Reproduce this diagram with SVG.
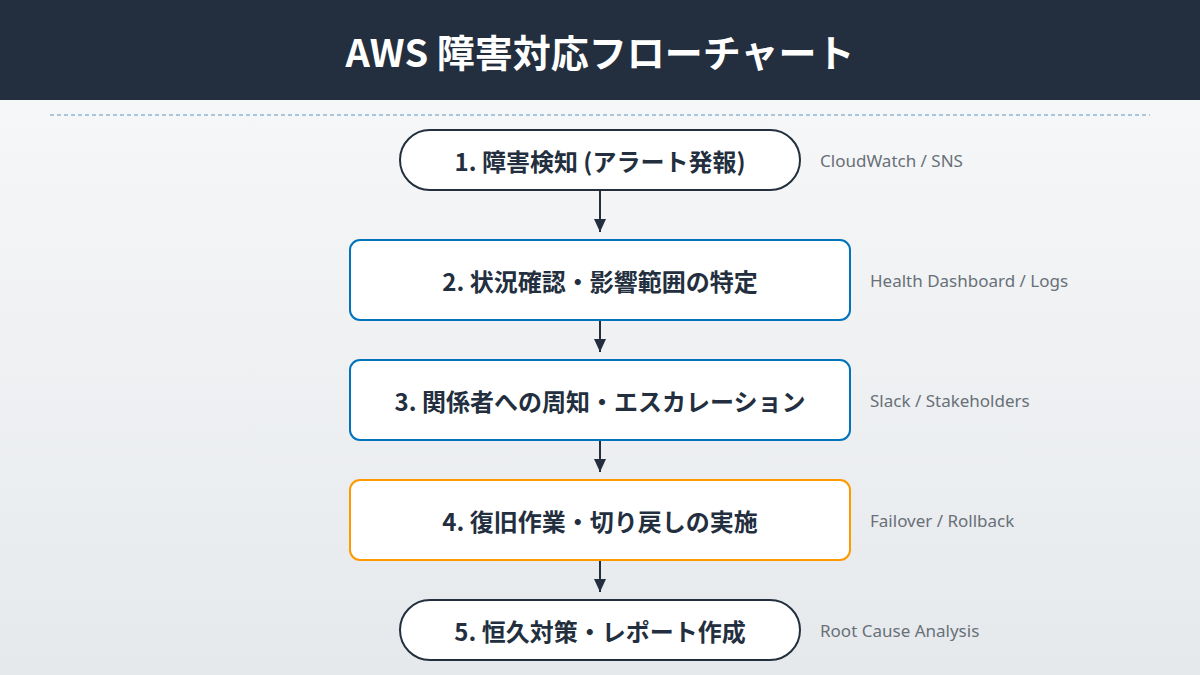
<svg xmlns="http://www.w3.org/2000/svg" width="1200" height="675" viewBox="0 0 1200 675">
<defs>
<linearGradient id="bg" x1="0" y1="0" x2="0" y2="1"><stop offset="0" stop-color="#f8f9fa"/><stop offset="1" stop-color="#e6e9ec"/></linearGradient>
<marker id="ah" markerWidth="14" markerHeight="14" refX="13" refY="6" orient="auto" markerUnits="userSpaceOnUse"><path d="M0,0 L13,6 L0,12 Z" fill="#232f3e"/></marker>
<style>
.t{font-family:"Noto Sans CJK JP","Noto Sans",sans-serif;font-weight:700;font-size:24px;fill:#232f3e;text-anchor:middle;dominant-baseline:central}
.s{font-family:"Noto Sans","Noto Sans CJK JP",sans-serif;font-size:17px;fill:#687078;dominant-baseline:central}
.b{fill:#fff;stroke-width:2}
.c{stroke:#232f3e;stroke-width:2;fill:none;marker-end:url(#ah)}
</style>
</defs>
<rect width="1200" height="675" fill="url(#bg)"/>
<rect width="1200" height="100" fill="#232f3e"/>
<text x="600" y="50" class="t" style="fill:#fff;font-size:38px">AWS 障害対応フローチャート</text>
<line x1="50" y1="115" x2="1150" y2="115" stroke="#8fb8d6" stroke-width="1.5" stroke-dasharray="4,3"/>
<g id="connectors">
<line class="c" x1="600" y1="190" x2="600" y2="232"/>
<line class="c" x1="600" y1="320" x2="600" y2="352"/>
<line class="c" x1="600" y1="440" x2="600" y2="472"/>
<line class="c" x1="600" y1="560" x2="600" y2="592"/>
</g>
<g id="n1"><rect class="b" x="400" y="130" width="400" height="60" rx="30" stroke="#232f3e"/><text class="t" x="600" y="160">1. 障害検知 (アラート発報)</text><text class="s" x="820" y="160">CloudWatch / SNS</text></g>
<g id="n2"><rect class="b" x="350" y="240" width="500" height="80" rx="10" stroke="#0073bb"/><text class="t" x="600" y="280">2. 状況確認・影響範囲の特定</text><text class="s" x="870" y="280">Health Dashboard / Logs</text></g>
<g id="n3"><rect class="b" x="350" y="360" width="500" height="80" rx="10" stroke="#0073bb"/><text class="t" x="600" y="400">3. 関係者への周知・エスカレーション</text><text class="s" x="870" y="400">Slack / Stakeholders</text></g>
<g id="n4"><rect class="b" x="350" y="480" width="500" height="80" rx="10" stroke="#ff9900"/><text class="t" x="600" y="520">4. 復旧作業・切り戻しの実施</text><text class="s" x="870" y="520">Failover / Rollback</text></g>
<g id="n5"><rect class="b" x="400" y="600" width="400" height="60" rx="30" stroke="#232f3e"/><text class="t" x="600" y="630">5. 恒久対策・レポート作成</text><text class="s" x="820" y="630">Root Cause Analysis</text></g>
</svg>
